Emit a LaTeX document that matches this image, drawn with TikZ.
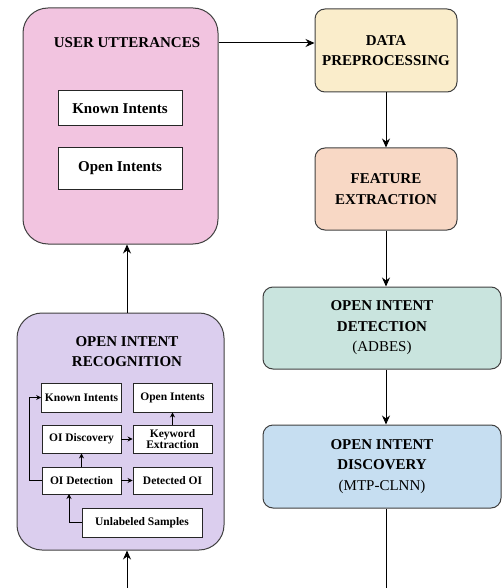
\documentclass[tikz,border=0pt]{standalone}
\usepackage{fontspec}
\setmainfont{Liberation Serif}
\usepackage{tikz}
\usetikzlibrary{positioning, arrows.meta, shapes.geometric}

\definecolor{uupink}{HTML}{F2C4E0}
\definecolor{dpyellow}{HTML}{FAEDCB}
\definecolor{fepeach}{HTML}{F8D8C5}
\definecolor{oidgreen}{HTML}{C9E4DE}
\definecolor{discblue}{HTML}{C6DEF1}
\definecolor{oirpurple}{HTML}{DBCEEE}

\tikzset{
    bigbox/.style={draw=black!75, line width=1pt, rounded corners=25pt},
    stagebox/.style={draw=black!75, line width=1pt, rounded corners=10pt, align=center,
        font=\fontsize{15}{20.5}\selectfont},
    whitebox/.style={draw=black!85, line width=1pt, fill=white,
        font=\fontsize{15}{19}\selectfont\bfseries},
    smallbox/.style={draw=black!85, line width=0.9pt, fill=white, align=center,
        font=\fontsize{11.5}{11}\selectfont\bfseries},
    titletext/.style={align=center, font=\fontsize{15}{20}\selectfont\bfseries},
    arr/.style={-{Stealth[length=9pt,width=8pt]}, line width=1pt},
    sarr/.style={-{Stealth[length=5pt,width=5pt]}, line width=0.9pt},
}

\begin{document}
\begin{tikzpicture}[x=1pt, y=-1pt]
    \useasboundingbox (0,0) rectangle (502,588); % margini

    % colonna sinistra
    \node[bigbox, fill=uupink, minimum width=195, minimum height=236] (uu) at (120.5,126) {};
    \node[titletext] (uutitle) at (127,43) {USER UTTERANCES};
    \node[whitebox, minimum width=124, minimum height=35] (known) at (120,108.5) {Known Intents};
    \node[whitebox, minimum width=124, minimum height=41] (open) at (120,168.5) {Open Intents};

    \node[bigbox, fill=oirpurple, minimum width=207, minimum height=237] (oir) at (120.5,431.5) {};
    \node[titletext] (oirtitle) at (127,352) {OPEN INTENT\\RECOGNITION};
    \node[smallbox, minimum width=79, minimum height=29] (ki) at (81.5,397.5) {Known Intents};
    \node[smallbox, minimum width=79, minimum height=29] (oi) at (172.5,397.5) {Open Intents};
    \node[smallbox, minimum width=79, minimum height=28] (disc) at (81.5,439) {OI Discovery};
    \node[smallbox, minimum width=79, minimum height=28] (kw) at (172.5,439) {Keyword\\Extraction};
    \node[smallbox, minimum width=79, minimum height=27] (det) at (81.5,480.5) {OI Detection};
    \node[smallbox, minimum width=79, minimum height=27] (dOI) at (172.5,480.5) {Detected OI};
    \node[smallbox, minimum width=120, minimum height=29] (us) at (142,522.5) {Unlabeled Samples};

    % colonna destra
    \node[stagebox, fill=dpyellow, minimum width=142, minimum height=83] (dp) at (386,50.5) {\textbf{DATA}\\\textbf{PREPROCESSING}};
    \node[stagebox, fill=fepeach, minimum width=142, minimum height=82] (fe) at (386,189) {\textbf{FEATURE}\\\textbf{EXTRACTION}};
    \node[stagebox, fill=oidgreen, minimum width=238, minimum height=82] (oid) at (382,328) {\textbf{OPEN INTENT}\\\textbf{DETECTION}\\(ADBES)};
    \node[stagebox, fill=discblue, minimum width=238, minimum height=83] (odisc) at (382,466.5) {\textbf{OPEN INTENT}\\\textbf{DISCOVERY}\\(MTP-CLNN)};

    \coordinate (leftin) at (127,588); % ingresso dal basso
    \coordinate (rightout) at (386,588); % uscita in basso
    \coordinate (usin) at (69,494);

    % frecce principali
    \draw[arr] (uu.east |- uutitle) -- (dp.west |- uutitle);
    \draw[arr] (dp) ++(0,41.5) -- (fe.north);
    \draw[arr] (fe.south) -- (oid.north -| fe);
    \draw[arr] (oid.south -| fe) -- (odisc.north -| fe);
    \draw[line width=1pt] (odisc.south -| fe) -- (rightout);
    \draw[arr] (oir.north -| uutitle) -- (uu.south -| uutitle);
    \draw[arr] (leftin) -- (oir.south -| leftin);

    % frecce interne
    \draw[sarr] (det.east) -- (dOI.west);
    \draw[sarr] (det.north) -- (disc.south);
    \draw[sarr] (disc.east) -- (kw.west);
    \draw[sarr] (kw.north) -- (oi.south);
    \draw[sarr] (det.west) -- ++(-12,0) |- (ki.west);
    \draw[sarr] (us.west) -| (usin);
\end{tikzpicture}
\end{document}
